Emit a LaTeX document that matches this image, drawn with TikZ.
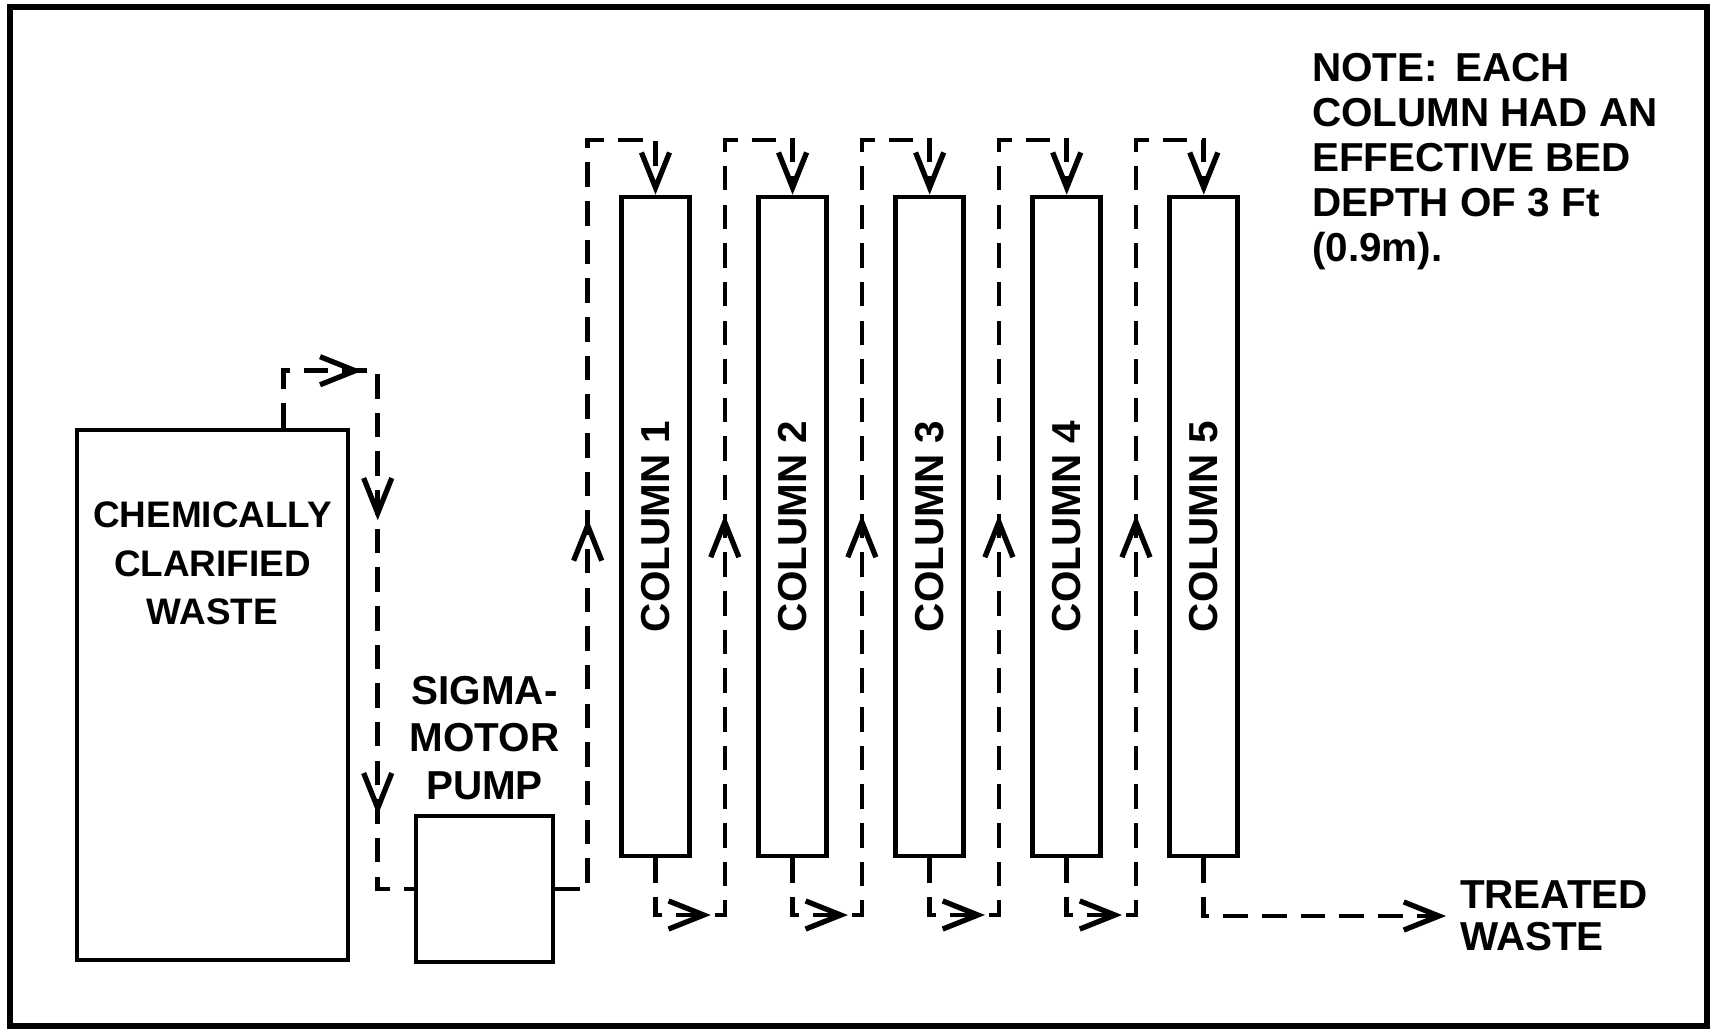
\documentclass[tikz,border=0pt]{standalone}
\usepackage{fontspec}
\setmainfont{Liberation Sans}
\usetikzlibrary{arrows.meta, positioning, decorations.markings}

\begin{document}
\begin{tikzpicture}[
    node distance=6.45mm,
    >={Straight Barb[length=10pt, width=8pt, line width=1.5pt]},
    lettering/.style={font=\bfseries\fontsize{11.5}{13.5}\selectfont, align=center,
                      inner sep=3.8pt},
    unit/.style={rectangle, draw, line width=1.3pt},
    tankbox/.style={unit, minimum width=2.71cm, minimum height=5.30cm},
    pumpbox/.style={unit, minimum width=1.37cm, minimum height=1.46cm},
    colbox/.style={unit, minimum width=0.68cm, minimum height=6.59cm},
    pipe/.style={line width=1.3pt, dash pattern=on 7pt off 4pt},
    flow/.style={pipe, ->},
    midarrow/.style={postaction={decorate, decoration={markings,
        mark=at position #1 with {\arrow{>}}}}},
]

\useasboundingbox (0,0) rectangle (17.17,10.32);
\draw[line width=1.6pt] (0.10,0.06) rectangle (17.07,10.25);

\node[tankbox] (tank) at (2.125,3.37) {};
\node[lettering, font=\bfseries\fontsize{10.5}{13.8}\selectfont,
      below=6mm of tank.north] (tanktext)
     {CHEMICALLY\\CLARIFIED\\WASTE};

\node[pumpbox] (pump) at (4.845,1.43) {};
\node[lettering, above=0mm of pump] (pumptext) {SIGMA-\\MOTOR\\PUMP};

\node[colbox, label={[lettering, rotate=90]center:COLUMN 1}] (col1) at (6.555,5.055) {};
\node[colbox, right=of col1, label={[lettering, rotate=90]center:COLUMN 2}] (col2) {};
\node[colbox, right=of col2, label={[lettering, rotate=90]center:COLUMN 3}] (col3) {};
\node[colbox, right=of col3, label={[lettering, rotate=90]center:COLUMN 4}] (col4) {};
\node[colbox, right=of col4, label={[lettering, rotate=90]center:COLUMN 5}] (col5) {};

\node[lettering, align=left, anchor=north west,
      font=\bfseries\fontsize{11.5}{12.8}\selectfont]
     (note) at (12.98,9.93)
     {\spaceskip=5pt plus 1pt\relax
      NOTE: EACH\\COLUMN HAD AN\\EFFECTIVE BED\\DEPTH OF 3 Ft\\(0.9m).};

\node[lettering, align=left, anchor=west,
      font=\bfseries\fontsize{11.5}{12}\selectfont] (treated) at (14.46,1.16)
     {TREATED\\WASTE};

\coordinate (low) at (0,1.17);
\coordinate (high) at (0,8.92);
\coordinate[left=6.7mm of tank.north east] (tankout);
\coordinate[above=5.7mm of tankout] (tankloop);
\coordinate[left=3.6mm of pump.west] (drop);
\foreach \i in {1,...,5}
  \coordinate[left=3.15mm of col\i.west] (r\i);

\draw[pipe, midarrow=1.36cm, midarrow=3.01cm, midarrow=5.96cm]
  (tankout) -- (tankloop) -- (tankloop -| drop) -- (drop) -- (pump.west);
\draw[flow, midarrow=4.03cm]
  (pump.east) -- (pump.east -| r1) -- (r1 |- high) -- (col1.north |- high) -- (col1.north);
\foreach \a/\b in {1/2,2/3,3/4,4/5}
  \draw[flow, midarrow=1.12cm, midarrow=5.26cm]
    (col\a.south) -- (col\a.south |- low) -- (r\b |- low) -- (r\b |- high)
    -- (col\b.north |- high) -- (col\b.north);
\draw[flow] (col5.south) |- (treated.west);

\end{tikzpicture}
\end{document}
